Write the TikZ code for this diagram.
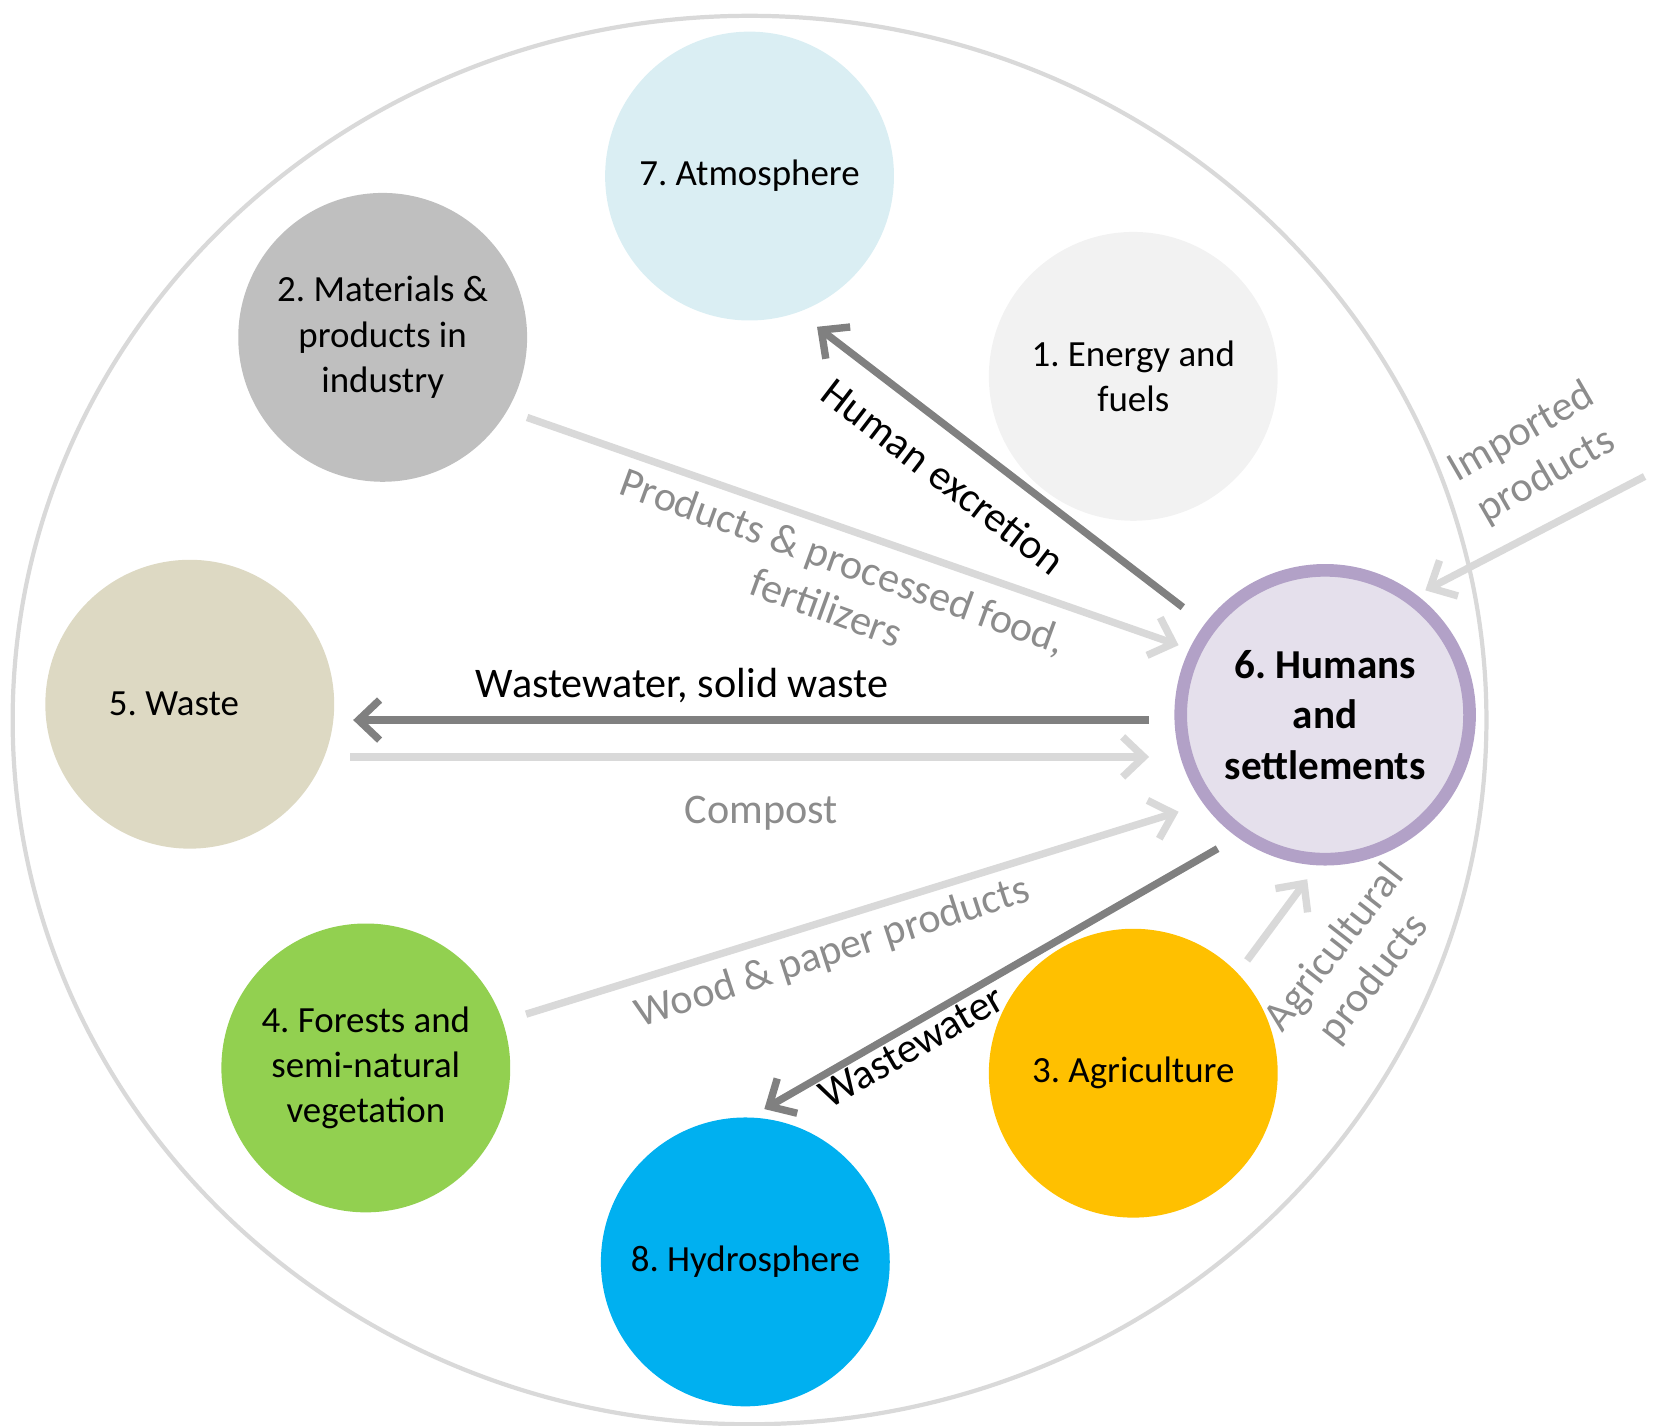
\documentclass[tikz,border=0pt]{standalone}
\usepackage{fontspec}
\setmainfont{Carlito}
\usetikzlibrary{arrows.meta}
\definecolor{outerc}{HTML}{D9D9D9}
\definecolor{atmc}{HTML}{DAEEF3}
\definecolor{matc}{HTML}{BFBFBF}
\definecolor{enc}{HTML}{F2F2F2}
\definecolor{wastec}{HTML}{DDD9C3}
\definecolor{humfill}{HTML}{E5E0EC}
\definecolor{humdraw}{HTML}{B2A1C7}
\definecolor{forc}{HTML}{92D050}
\definecolor{agric}{HTML}{FFC000}
\definecolor{hydc}{HTML}{00B0F0}
\definecolor{darkarr}{HTML}{808080}
\definecolor{lightarr}{HTML}{D9D9D9}
\definecolor{lighttxt}{HTML}{8C8C8C}
\frenchspacing
\begin{document}
\begin{tikzpicture}[x=1pt,y=-1pt,
  blob/.style={circle, minimum size=274pt, inner sep=0pt, align=center,
    font=\fontsize{35}{43}\selectfont, text=black},
  darkflow/.style={draw=darkarr, line width=7pt,
    -{Straight Barb[length=20pt,width=38pt]}},
  lightflow/.style={draw=lightarr, line width=7pt,
    -{Straight Barb[length=20pt,width=38pt]}},
  darklab/.style={font=\fontsize{40}{47}\selectfont, text=black, align=center, inner sep=0pt},
  lightlab/.style={font=\fontsize{40}{47}\selectfont, text=lighttxt, align=center, inner sep=0pt}
]
\useasboundingbox (0,0) rectangle (1568,1352);
\draw[draw=outerc, line width=4pt] (711,683) ellipse [x radius=699pt, y radius=668pt];

\node[blob, fill=atmc] (atm) at (711,167) {7. Atmosphere};
\node[blob, fill=matc] (mat) at (363,320) {2. Materials \&\\products in\\industry};
\node[blob, fill=enc] (ene) at (1075,357) {1. Energy and\\fuels};
\node[blob, fill=wastec] (was) at (180,668) {\hspace*{-30pt}5. Waste};
\node[blob, fill=humfill, draw=humdraw, line width=12pt,
  font=\fontsize{39}{48}\selectfont\bfseries] (hum) at (1257,678) {6. Humans\\and\\settlements};
\node[blob, fill=forc] (for) at (347,1013) {4. Forests and\\semi-natural\\vegetation};
\node[blob, fill=agric] (agr) at (1075,1018) {3. Agriculture};
\node[blob, fill=hydc] (hyd) at (707,1197) {8. Hydrosphere};

% arrow end points
\coordinate (exS) at (1122,576);  \coordinate (exE) at (775,310);
\coordinate (prS) at (500,396);   \coordinate (prE) at (1118,612);
\coordinate (wsS) at (1090,683);  \coordinate (wsE) at (335,683);
\coordinate (coS) at (332,718);   \coordinate (coE) at (1090,718);
\coordinate (woS) at (499,962);   \coordinate (woE) at (1118,770);
\coordinate (wwS) at (1155,805);  \coordinate (wwE) at (725,1052);
\coordinate (agS) at (1183,911);  \coordinate (agE) at (1240,834);
\coordinate (imS) at (1560,452);  \coordinate (imE) at (1352,560);

\draw[lightflow] (prS) -- (prE);
\draw[lightflow] (coS) -- (coE);
\draw[lightflow] (woS) -- (woE);
\draw[lightflow] (agS) -- (agE);
\draw[lightflow] (imS) -- (imE);
\draw[darkflow] (exS) -- (exE);
\draw[darkflow] (wsS) -- (wsE);
\draw[darkflow] (wwS) -- (wwE);

\node[darklab, rotate=-37.5] (lexc) at (895,452) {Human excretion};
\node[lightlab, rotate=-20] (lpro) at (792,554) {Products \& processed\ food,\\fertilizers};
\node[darklab] (lws) at (647,650) {Wastewater,\ solid waste};
\node[lightlab] (lco) at (722,771) {Compost};
\node[lightlab, rotate=18] (lwo) at (790,904) {Wood \& paper\ products};
\node[darklab, rotate=30] (lww) at (865,993) {Wastewater};
\node[lightlab, rotate=52] (lag) at (1285,914) {Agricultural\\products};
\node[lightlab, rotate=30] (lim) at (1455,431) {Imported\\products};
\end{tikzpicture}
\end{document}
